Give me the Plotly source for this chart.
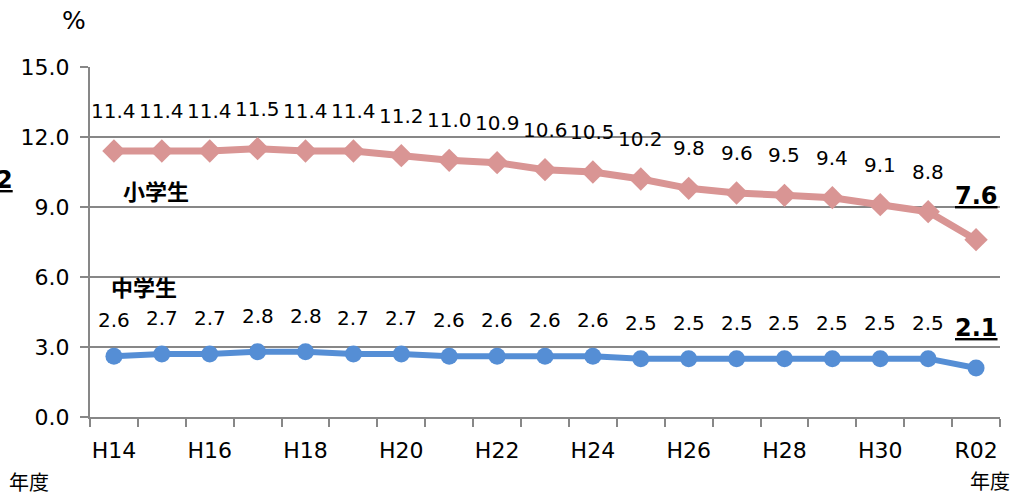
import plotly.graph_objects as go

years = ["H14", "H15", "H16", "H17", "H18", "H19", "H20", "H21", "H22", "H23",
         "H24", "H25", "H26", "H27", "H28", "H29", "H30", "H31", "R02"]
elementary = [11.4, 11.4, 11.4, 11.5, 11.4, 11.4, 11.2, 11.0, 10.9, 10.6,
              10.5, 10.2, 9.8, 9.6, 9.5, 9.4, 9.1, 8.8, 7.6]
junior_high = [2.6, 2.7, 2.7, 2.8, 2.8, 2.7, 2.7, 2.6, 2.6, 2.6,
               2.6, 2.5, 2.5, 2.5, 2.5, 2.5, 2.5, 2.5, 2.1]
y_ticks = [0.0, 3.0, 6.0, 9.0, 12.0, 15.0]

PINK = "#D99594"
BLUE = "#558ED5"
GRID = "#878787"
NUM_FONT = "DejaVu Sans"
JP_FONT = "Noto Sans CJK JP"

W, H = 1033, 495
L, R, T, B = 90, 33, 67, 78
pw, ph = W - L - R, H - T - B


def px_to_paper(px, py):
    return (px - L) / pw, 1 - (py - T) / ph


xs = list(range(len(years)))

fig = go.Figure()
fig.add_trace(go.Scatter(
    x=xs, y=elementary, mode="lines+markers", name="小学生",
    line=dict(color=PINK, width=7),
    marker=dict(symbol="diamond", size=18, color=PINK),
))
fig.add_trace(go.Scatter(
    x=xs, y=junior_high, mode="lines+markers", name="中学生",
    line=dict(color=BLUE, width=6),
    marker=dict(symbol="circle", size=17, color=BLUE),
))

annotations = []
last = len(years) - 1
for series, shift in ((elementary, 40), (junior_high, 36)):
    for i, v in enumerate(series):
        if i == last:
            annotations.append(dict(
                x=i, y=v, xref="x", yref="y", text=f"<b><u>{v:.1f}</u></b>",
                showarrow=False, xanchor="center", yanchor="middle", yshift=shift + 4,
                font=dict(family=NUM_FONT, size=24, color="#000000"),
            ))
        else:
            annotations.append(dict(
                x=i, y=v, xref="x", yref="y", text=f"{v:.1f}",
                showarrow=False, xanchor="center", yanchor="middle", yshift=shift,
                font=dict(family=NUM_FONT, size=20, color="#000000"),
            ))

# series names, unit and axis captions placed by pixel position
free_texts = [
    ("<b>小学生</b>", 156, 190, JP_FONT, 22),
    ("<b>中学生</b>", 144, 286, JP_FONT, 22),
    ("%", 74, 21, NUM_FONT, 25),
    ("年度", 29, 481, JP_FONT, 20),
    ("年度", 990, 480, JP_FONT, 20),
]
for txt, px, py, fam, size in free_texts:
    ax, ay = px_to_paper(px, py)
    annotations.append(dict(
        x=ax, y=ay, xref="paper", yref="paper", text=txt, showarrow=False,
        xanchor="center", yanchor="middle",
        font=dict(family=fam, size=size, color="#000000"),
    ))
ax, ay = px_to_paper(-6, 180)
annotations.append(dict(
    x=ax, y=ay, xref="paper", yref="paper", text="<b><u>2</u></b>", showarrow=False,
    xanchor="left", yanchor="middle",
    font=dict(family=NUM_FONT, size=24, color="#000000"),
))

fig.update_layout(
    width=W, height=H,
    margin=dict(l=L, r=R, t=T, b=B),
    paper_bgcolor="white", plot_bgcolor="white",
    showlegend=False,
    annotations=annotations,
    xaxis=dict(
        range=[-0.5, len(years) - 0.5],
        tickmode="array", tickvals=xs[::2], ticktext=years[::2],
        ticks="", showgrid=False, zeroline=False,
        showline=True, linecolor=GRID, linewidth=2,
        tickfont=dict(family=NUM_FONT, size=22, color="#000000"),
        minor=dict(tickmode="array", tickvals=[i - 0.5 for i in range(len(years) + 1)],
                   ticks="outside", ticklen=8, tickwidth=2, tickcolor=GRID, showgrid=False),
        ticklabelstandoff=13,
    ),
    yaxis=dict(
        range=[0, 15], tickmode="array", tickvals=y_ticks,
        ticktext=[f"{v:.1f}" for v in y_ticks],
        showgrid=True, gridcolor=GRID, gridwidth=2, zeroline=False,
        showline=True, linecolor=GRID, linewidth=2,
        ticks="outside", ticklen=8, tickwidth=2, tickcolor=GRID,
        tickfont=dict(family=NUM_FONT, size=22, color="#000000"),
        ticklabelstandoff=6,
    ),
)

fig.write_html("out.html")
